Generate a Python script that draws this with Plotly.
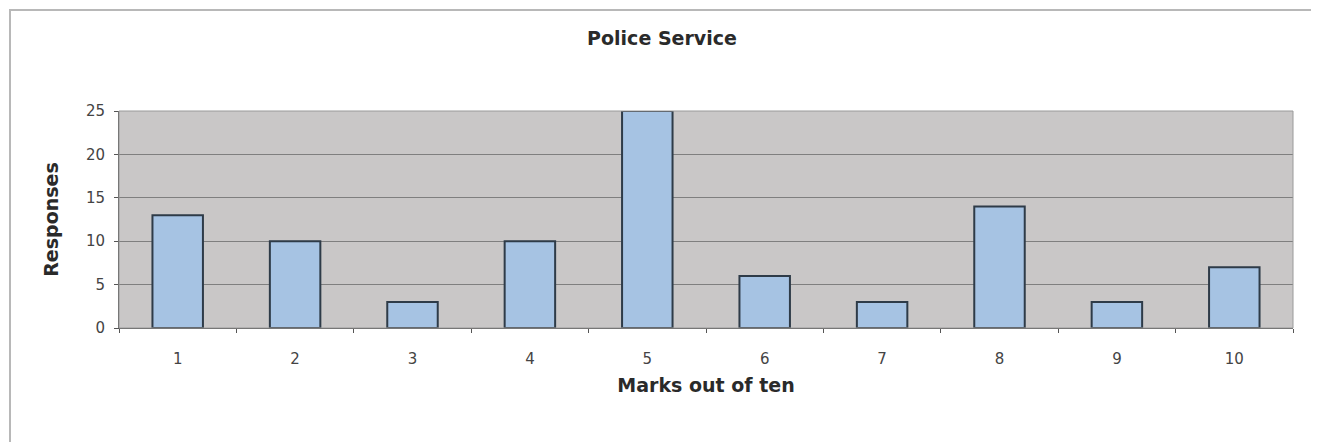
import plotly.graph_objects as go

categories = ["1", "2", "3", "4", "5", "6", "7", "8", "9", "10"]
responses = [13, 10, 3, 10, 25, 6, 3, 14, 3, 7]
y_ticks = [0, 5, 10, 15, 20, 25]

FONT = "DejaVu Sans, Liberation Sans, Arial, sans-serif"
OFF = 8  # page body margin offset

# Target plot area in screenshot pixels
PL, PR, PT, PB = 119, 1293, 111, 328
PW, PH = PR - PL, PB - PT

fig = go.Figure()
fig.add_trace(go.Bar(
    x=categories,
    y=responses,
    width=0.43,
    marker=dict(color="#a6c3e3", line=dict(color="#2e3b48", width=2)),
))

fig.update_layout(
    width=1319, height=442,
    margin=dict(l=PL - OFF, r=1319 + OFF - PR, t=PT - OFF, b=442 + OFF - PB),
    paper_bgcolor="white",
    plot_bgcolor="#c9c7c7",
    showlegend=False,
    title=dict(text="<b>Police Service</b>", x=(662 - OFF) / 1319, xanchor="center",
               y=1 - (38 - OFF) / 442, yanchor="middle",
               font=dict(family=FONT, size=19, color="#2a2a2a")),
    font=dict(family=FONT, size=16, color="#333"),
    shapes=[
        dict(type="rect", xref="paper", yref="paper",
             x0=(10 - PL) / PW, x1=(1313 - PL) / PW,
             y0=(PB - 470) / PH, y1=(PB - 10) / PH,
             line=dict(color="#b8b8b8", width=2), fillcolor="rgba(0,0,0,0)", layer="below"),
        dict(type="rect", xref="paper", yref="paper", x0=0, x1=1, y0=0, y1=1,
             line=dict(color="#9a9a9a", width=1), fillcolor="rgba(0,0,0,0)", layer="above"),
    ],
)

fig.update_xaxes(
    type="category",
    tickson="boundaries",
    ticks="outside", ticklen=4, tickcolor="#555",
    ticklabelstandoff=17,
    showline=True, linecolor="#555", linewidth=1,
    showgrid=False,
    tickfont=dict(family=FONT, size=15, color="#444"),
    title=dict(text="<b>Marks out of ten</b>", font=dict(family=FONT, size=19, color="#2a2a2a"), standoff=11),
)
fig.update_yaxes(
    range=[0, 25],
    tickvals=y_ticks,
    ticks="outside", ticklen=4, tickcolor="#555",
    ticklabelstandoff=6,
    showline=True, linecolor="#555", linewidth=1,
    showgrid=True, gridcolor="#7f7f7f", gridwidth=1,
    zeroline=False,
    tickfont=dict(family=FONT, size=15, color="#444"),
    title=dict(text="<b>Responses</b>", font=dict(family=FONT, size=19, color="#2a2a2a"), standoff=22),
)

fig.write_html("out.html")
